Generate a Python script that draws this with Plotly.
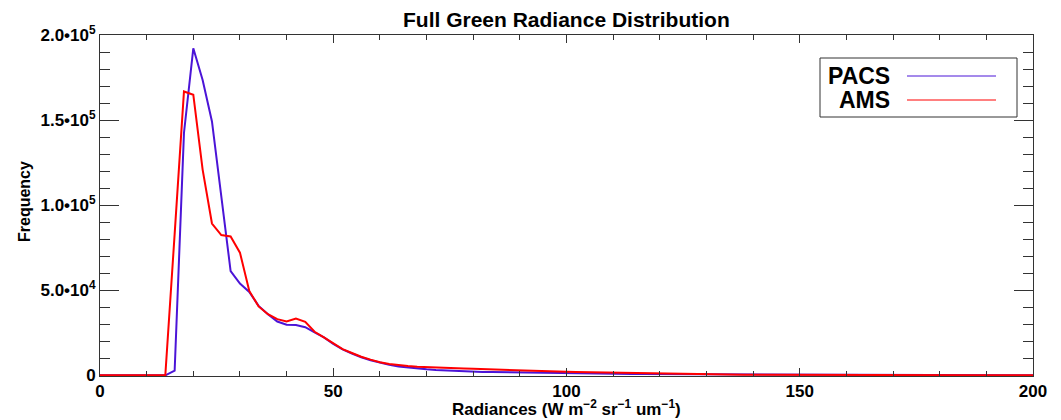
import plotly.graph_objects as go

radiance_bins = [0, 2, 4, 6, 8, 10, 12, 14, 16, 18, 20, 22, 24, 26, 28, 30, 32, 34, 36, 38,
                 40, 42, 44, 46, 48, 50, 52, 54, 56, 58, 60, 62, 64, 66, 68, 70, 72, 74, 76, 78,
                 80, 82, 84, 86, 88, 90, 92, 94, 96, 98, 100, 102, 104, 106, 108, 110, 112, 114, 116, 118,
                 120, 122, 124, 126, 128, 130, 132, 134, 136, 138, 140, 142, 144, 146, 148, 150, 152, 154, 156, 158,
                 160, 162, 164, 166, 168, 170, 172, 174, 176, 178, 180, 182, 184, 186, 188, 190, 192, 194, 196, 198,
                 200]

pacs_freq = [0, 0, 0, 0, 0, 0, 0, 0, 2700, 142400, 192200, 173600, 149200, 105000, 61300, 53900, 49000, 40800, 35900, 31600,
             29700, 29500, 28300, 25200, 22300, 18500, 15200, 12800, 10600, 8900, 7400, 6200, 5200, 4500, 3900, 3500, 3100, 2800, 2500, 2300,
             2200, 2000, 1900, 1800, 1600, 1500, 1400, 1300, 1200, 1100, 1000, 950, 900, 870, 840, 800, 770, 740, 720, 700,
             680, 620, 580, 540, 500, 460, 420, 390, 360, 330, 300, 280, 260, 240, 220, 200, 190, 180, 170, 160,
             150, 140, 130, 120, 110, 100, 95, 90, 85, 80, 75, 70, 65, 60, 55, 50, 45, 40, 35, 30,
             25]

ams_freq = [0, 0, 0, 0, 0, 0, 0, 0, 83000, 166800, 164900, 120900, 89200, 82400, 81600, 72100, 49600, 40500, 35900, 33000,
            31600, 33400, 31400, 25600, 22300, 18600, 15400, 13100, 10900, 9200, 7700, 6700, 6000, 5500, 5100, 4800, 4600, 4400, 4200, 4000,
            3800, 3600, 3400, 3200, 2900, 2700, 2600, 2400, 2300, 2200, 2100, 2000, 1900, 1800, 1600, 1400, 1300, 1200, 1100, 1050,
            1000, 900, 800, 700, 600, 550, 500, 460, 420, 390, 360, 330, 300, 280, 260, 240, 225, 210, 200, 190,
            180, 170, 160, 150, 140, 130, 120, 115, 110, 105, 100, 95, 90, 85, 80, 75, 70, 65, 60, 55,
            50]

series_names = ["PACS", "AMS"]
series_colors = ["rgb(75,20,215)", "rgb(255,0,0)"]

x_tickvals = [0, 50, 100, 150, 200]
x_ticktext = ["0", "50", "100", "150", "200"]
y_tickvals = [0, 50000, 100000, 150000, 200000]
y_ticktext = ["0", "5.0•10<sup>4</sup>", "1.0•10<sup>5</sup>", "1.5•10<sup>5</sup>", "2.0•10<sup>5</sup>"]

FONT = "Liberation Sans"

fig = go.Figure()
for name, ys, col in zip(series_names, [pacs_freq, ams_freq], series_colors):
    fig.add_trace(go.Scatter(x=radiance_bins, y=ys, mode="lines", name=name,
                             line=dict(color=col, width=2), showlegend=False))

axis_common = dict(showline=True, linecolor="#333333", linewidth=1, mirror="allticks",
                   ticks="inside", tickcolor="#333333", showgrid=False, zeroline=False,
                   tickfont=dict(family=FONT, size=17, color="black", weight="bold"))

fig.update_xaxes(range=[0, 200], tickvals=x_tickvals, ticktext=x_ticktext, ticklen=8,
                 minor=dict(dtick=10, ticks="inside", ticklen=5, tickcolor="#333333"),
                 **axis_common)
fig.update_yaxes(range=[-400, 200000], tickvals=y_tickvals, ticktext=y_ticktext, ticklen=19,
                 minor=dict(dtick=10000, ticks="inside", ticklen=10, tickcolor="#333333"),
                 **axis_common)

# page body has an 8px offset; figure occupies page pixels 8..1061 x 8..420
fig.update_layout(
    width=1053, height=412,
    margin=dict(l=92, r=28, t=27, b=44, autoexpand=False),
    plot_bgcolor="white", paper_bgcolor="white",
)

plot_w, plot_h = 933, 341
PX0, PY_BOTTOM = 100, 376


def px_x(p):
    return (p - PX0) / plot_w


def px_y(p):
    return (PY_BOTTOM - p) / plot_h


annotations = [
    dict(text="Full Green Radiance Distribution", x=0.5, y=px_y(19), xref="paper", yref="paper",
         xanchor="center", yanchor="middle", showarrow=False,
         font=dict(family=FONT, size=21, color="black", weight="bold")),
    dict(text="Radiances (W m<sup>−2</sup> sr<sup>−1</sup> um<sup>−1</sup>)", x=0.5, y=px_y(408),
         xref="paper", yref="paper", xanchor="center", yanchor="middle", showarrow=False,
         font=dict(family=FONT, size=17, color="black", weight="bold")),
    dict(text="Frequency", x=px_x(24), y=px_y(202), xref="paper", yref="paper", textangle=-90,
         xanchor="center", yanchor="middle", showarrow=False,
         font=dict(family=FONT, size=16, color="black", weight="bold")),
]

shapes = [dict(type="rect", xref="paper", yref="paper",
               x0=px_x(820), x1=px_x(1017), y0=px_y(117), y1=px_y(58),
               line=dict(color="#333333", width=1), fillcolor="white", layer="above")]
legend_rows_py = [76, 100]
for name, col, py in zip(series_names, series_colors, legend_rows_py):
    shapes.append(dict(type="line", xref="paper", yref="paper",
                       x0=px_x(907), x1=px_x(996), y0=px_y(py), y1=px_y(py),
                       line=dict(color=col, width=1), layer="above"))
    annotations.append(dict(text=name, x=px_x(892), y=px_y(py),
                            xref="paper", yref="paper", xanchor="right", yanchor="middle",
                            showarrow=False,
                            font=dict(family=FONT, size=23, color="black", weight="bold")))

fig.update_layout(annotations=annotations, shapes=shapes)
fig.write_html("out.html")
